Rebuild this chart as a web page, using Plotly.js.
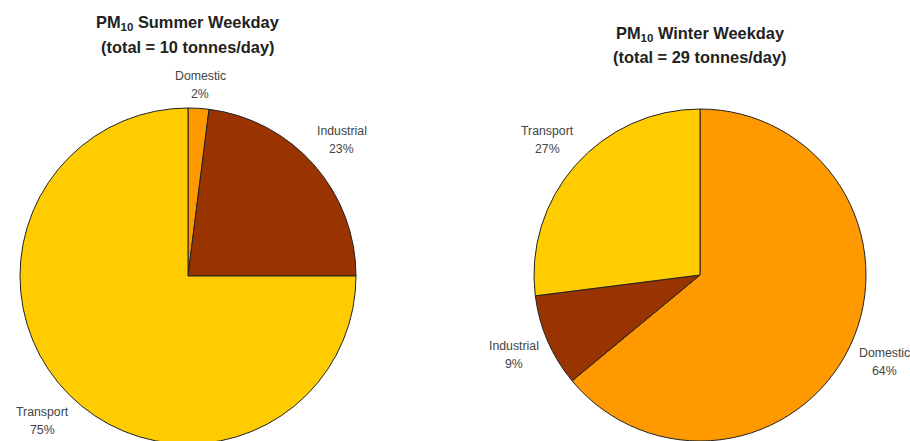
<!DOCTYPE html>
<html><head><meta charset="utf-8">
<script src="https://cdn.plot.ly/plotly-3.0.1.min.js"></script>
<style>html,body{margin:0;padding:0;overflow:hidden;background:#fff;width:910px;height:441px}</style>
</head><body><div id="chart"></div>
<script>
const categories = ["Domestic", "Industrial", "Transport"];
const summerValues = [2, 23, 75];
const winterValues = [64, 9, 27];
const colors = ["#FF9900", "#993300", "#FFCC00"];
const summerTitle = ["PM<sub>10</sub> Summer Weekday", "(total = 10 tonnes/day)"];
const winterTitle = ["PM<sub>10</sub> Winter Weekday", "(total = 29 tonnes/day)"];

const W = 910, H = 460;
const FONT = "Liberation Sans, Arial, sans-serif";
const LABEL_SIZE = 12.3, LINE_GAP = 18, EDGE_GAP = 7;
// pie geometry in pixels (cx, cy from top, radius) and title line positions
const pies = [
  {vals: summerValues, title: summerTitle, cx: 188, cy: 276, r: 168, titleY: [23, 47]},
  {vals: winterValues, title: winterTitle, cx: 700, cy: 275, r: 166, titleY: [34, 57]}
];

const ctx = document.createElement("canvas").getContext("2d");
ctx.font = LABEL_SIZE + "px 'Liberation Sans'";
const tw = s => ctx.measureText(s).width;

const traces = [];
const annotations = [];
const ann = (x, y, text, size, color) => annotations.push({
  xref: "paper", yref: "paper", x: x / W, y: (H - y) / H,
  xanchor: "center", yanchor: "middle", showarrow: false,
  text: text, font: {family: FONT, size: size, color: color}
});

pies.forEach(p => {
  traces.push({
    type: "pie", labels: categories, values: p.vals, sort: false,
    direction: "clockwise", rotation: 0, textinfo: "none", hoverinfo: "label+percent",
    marker: {colors: colors, line: {color: "#222", width: 1}},
    domain: {x: [(p.cx - p.r) / W, (p.cx + p.r) / W], y: [(H - p.cy - p.r) / H, (H - p.cy + p.r) / H]},
    showlegend: false
  });
  const total = p.vals.reduce((a, b) => a + b, 0);
  let cum = 0;
  p.vals.forEach((v, k) => {
    const mid = (cum + v / 2) / total * 2 * Math.PI;
    cum += v;
    const pct = Math.round(v / total * 100) + "%";
    const ux = Math.sin(mid), uy = -Math.cos(mid);
    const hw = Math.max(tw(categories[k]), tw(pct)) / 2, hh = LINE_GAP - 1;
    const sx = Math.sign(ux) * hw, sy = Math.sign(uy) * hh;
    const us = ux * sx + uy * sy, ss = sx * sx + sy * sy, rg = p.r + EDGE_GAP;
    const d = us + Math.sqrt(us * us - ss + rg * rg);
    const x = p.cx + d * ux, y = p.cy + d * uy;
    ann(x, y - LINE_GAP / 2, categories[k], LABEL_SIZE, "#444");
    ann(x, y + LINE_GAP / 2, pct, LABEL_SIZE, "#444");
  });
  ann(p.cx, p.titleY[0], "<b>" + p.title[0] + "</b>", 16.4, "#222");
  ann(p.cx, p.titleY[1], "<b>" + p.title[1] + "</b>", 16.4, "#222");
});

Plotly.newPlot("chart", traces, {
  width: W, height: H, margin: {l: 0, r: 0, t: 0, b: 0},
  paper_bgcolor: "#fff", plot_bgcolor: "#fff",
  annotations: annotations
}, {staticPlot: true});
</script></body></html>
